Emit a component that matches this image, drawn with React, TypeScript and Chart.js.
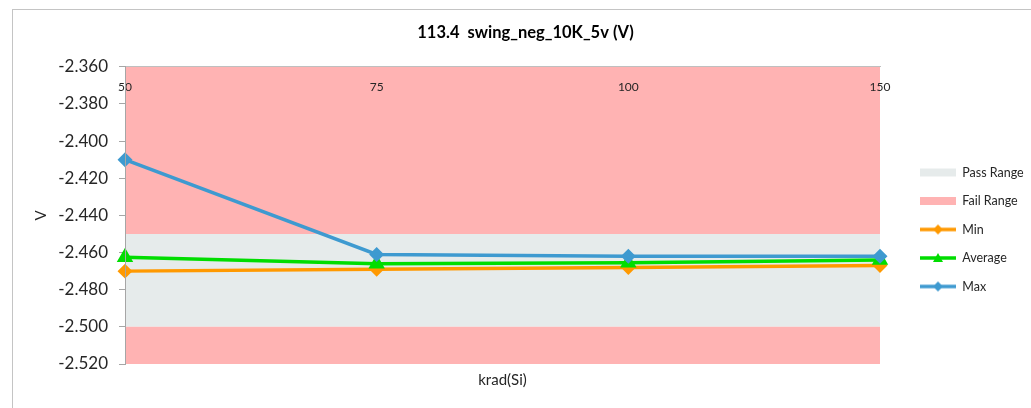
import React, { useEffect, useRef } from 'react';
import { Chart, registerables } from 'chart.js';

Chart.register(...registerables);

const categories = ['50', '75', '100', '150'];
const minValues = [-2.470, -2.469, -2.468, -2.467];
const averageValues = [-2.4625, -2.466, -2.4655, -2.464];
const maxValues = [-2.410, -2.461, -2.462, -2.462];
const failTop = [-2.36, -2.36, -2.36, -2.36];
const passUpper = [-2.45, -2.45, -2.45, -2.45];
const passLower = [-2.5, -2.5, -2.5, -2.5];
const failBottom = [-2.52, -2.52, -2.52, -2.52];
const yTickMin = -2.52;
const yTickMax = -2.36;
const yTickStep = 0.02;

const titleText = '113.4  swing_neg_10K_5v (V)';
const xTitle = 'krad(Si)';
const yTitle = 'V';

const PASS_COLOR = '#e6ebeb';
const FAIL_COLOR = '#ffb3b3';
const MIN_COLOR = '#ff9900';
const AVG_COLOR = '#00dd00';
const MAX_COLOR = '#3e9ad0';
const FONT = 'Lato, "Open Sans", sans-serif';
const TEXT = '#262626';

function makeIcon(kind: string, color: string, marker?: string) {
  const c = document.createElement('canvas');
  c.width = 60;
  c.height = 12;
  const ctx = c.getContext('2d')!;
  const x0 = 24;
  const w = 36;
  if (kind === 'box') {
    ctx.fillStyle = color;
    ctx.fillRect(x0, 2, w, 8);
  } else {
    ctx.strokeStyle = color;
    ctx.lineWidth = 3.5;
    ctx.beginPath();
    ctx.moveTo(x0, 6);
    ctx.lineTo(x0 + w, 6);
    ctx.stroke();
    ctx.fillStyle = color;
    const cx = x0 + w / 2;
    ctx.beginPath();
    if (marker === 'triangle') {
      ctx.moveTo(cx, 1);
      ctx.lineTo(cx + 5, 10);
      ctx.lineTo(cx - 5, 10);
    } else {
      ctx.moveTo(cx, 1);
      ctx.lineTo(cx + 5, 6);
      ctx.lineTo(cx, 11);
      ctx.lineTo(cx - 5, 6);
    }
    ctx.closePath();
    ctx.fill();
  }
  return c;
}

const framePlugin = {
  id: 'frame',
  beforeDraw(chart: any) {
    const ctx = chart.ctx;
    ctx.save();
    ctx.fillStyle = '#ffffff';
    ctx.fillRect(0, 0, chart.width, chart.height);
    ctx.strokeStyle = '#c4c4c4';
    ctx.lineWidth = 1;
    ctx.strokeRect(12.5, 9.5, chart.width + 40, chart.height + 40);
    ctx.restore();
  },
};

export default function App() {
  const ref = useRef<HTMLCanvasElement | null>(null);

  useEffect(() => {
    if (!ref.current) return;
    const icons = [
      { text: 'Pass Range', icon: makeIcon('box', PASS_COLOR) },
      { text: 'Fail Range', icon: makeIcon('box', FAIL_COLOR) },
      { text: 'Min', icon: makeIcon('line', MIN_COLOR, 'diamond') },
      { text: 'Average', icon: makeIcon('line', AVG_COLOR, 'triangle') },
      { text: 'Max', icon: makeIcon('line', MAX_COLOR, 'diamond') },
    ];
    const lineBase = {
      type: 'line' as const,
      borderWidth: 3.5,
      pointRadius: 5,
      pointHoverRadius: 5,
      fill: false,
      clip: false as any,
      tension: 0,
    };
    const chart = new Chart(ref.current, {
      type: 'line',
      data: {
        labels: categories,
        datasets: [
          { label: 'Fail Range', data: failTop, borderWidth: 0, pointRadius: 0, backgroundColor: FAIL_COLOR, fill: '+1', order: 5 },
          { label: 'Pass Range', data: passUpper, borderWidth: 0, pointRadius: 0, backgroundColor: PASS_COLOR, fill: '+1', order: 4 },
          { label: 'Fail Range 2', data: passLower, borderWidth: 0, pointRadius: 0, backgroundColor: FAIL_COLOR, fill: '+1', order: 3 },
          { label: 'Fail Bottom', data: failBottom, borderWidth: 0, pointRadius: 0, backgroundColor: FAIL_COLOR, fill: false, order: 6 },
          { ...lineBase, label: 'Min', data: minValues, borderColor: MIN_COLOR, backgroundColor: MIN_COLOR, pointStyle: 'rectRot', order: 2 },
          { ...lineBase, label: 'Average', data: averageValues, borderColor: AVG_COLOR, backgroundColor: AVG_COLOR, pointStyle: 'triangle', pointRadius: 6, order: 1 },
          { ...lineBase, label: 'Max', data: maxValues, borderColor: MAX_COLOR, backgroundColor: MAX_COLOR, pointStyle: 'rectRot', order: 0 },
        ] as any,
      },
      options: {
        animation: false,
        responsive: false,
        maintainAspectRatio: false,
        layout: { padding: { left: 20, right: 0, top: 0, bottom: 19 } },
        plugins: {
          filler: { drawTime: 'beforeDatasetsDraw' } as any,
          tooltip: { enabled: false },
          title: {
            display: true,
            text: titleText,
            color: '#000',
            font: { family: FONT, size: 16.5, weight: 'bold' },
            padding: { top: 23, bottom: 24 },
          },
          legend: {
            position: 'right',
            maxWidth: 151,
            title: {
              display: true,
              text: ' ',
              font: { family: FONT, size: 10 },
              padding: { top: 58, bottom: 0 },
            },
            labels: {
              usePointStyle: true,
              pointStyleWidth: 60,
              padding: 16,
              color: TEXT,
              font: { family: FONT, size: 12.5 },
              generateLabels: () =>
                icons.map((it, i) => ({
                  text: it.text,
                  pointStyle: it.icon as any,
                  fillStyle: 'rgba(0,0,0,0)',
                  strokeStyle: 'rgba(0,0,0,0)',
                  lineWidth: 0,
                  hidden: false,
                  datasetIndex: i,
                  fontColor: TEXT,
                })),
            },
          },
        },
        scales: {
          x: {
            type: 'category',
            position: 'top',
            offset: false,
            grid: { display: false },
            border: { display: true, color: '#bfbfbf', z: 1 },
            ticks: {
              z: 1,
              mirror: true,
              padding: 13,
              color: TEXT,
              font: { family: FONT, size: 12 },
              maxRotation: 0,
              autoSkip: false,
            },
            afterFit: (s: any) => {
              s.height = 0;
            },
          },
          x2: {
            type: 'category',
            position: 'bottom',
            offset: false,
            grid: { display: false },
            border: { display: false },
            ticks: { display: false },
            title: {
              display: true,
              text: xTitle,
              color: TEXT,
              font: { family: FONT, size: 15 },
              padding: { top: 8, bottom: 0 },
            },
            afterFit: (s: any) => {
              s.height = 25;
            },
          },
          y: {
            min: yTickMin,
            max: yTickMax,
            grid: { drawOnChartArea: false, drawTicks: true, tickLength: 6, color: '#a6a6a6' },
            border: { display: true, color: '#a6a6a6', z: 1 },
            ticks: {
              stepSize: yTickStep,
              padding: 11,
              color: TEXT,
              font: { family: FONT, size: 17 },
              callback: (v: any) => Number(v).toFixed(3),
            },
            title: {
              display: true,
              text: yTitle,
              color: TEXT,
              font: { family: FONT, size: 15 },
              padding: { top: 12, bottom: 0 },
            },
            afterFit: (s: any) => {
              s.width = 105;
            },
          },
        },
      },
      plugins: [framePlugin],
    });
    return () => chart.destroy();
  }, []);

  return (
    <div style={{ position: 'absolute', left: 0, top: 0, width: 1031, height: 408 }}>
      <canvas ref={ref} width={1031} height={408} style={{ width: 1031, height: 408, display: 'block' }} />
    </div>
  );
}
